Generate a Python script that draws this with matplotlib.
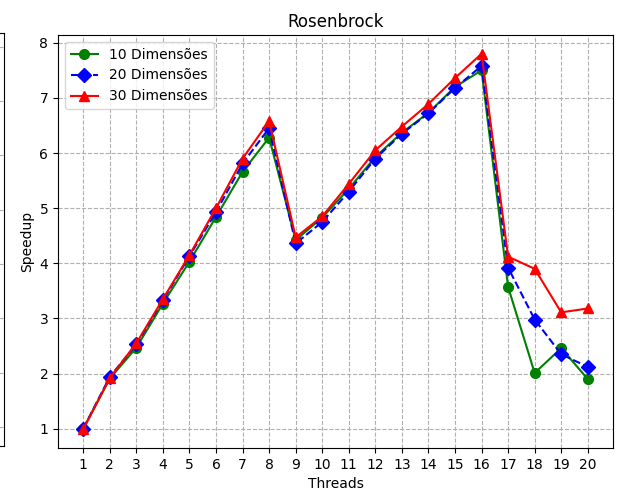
import matplotlib

matplotlib.use("Agg")

import matplotlib.pyplot as plt

threads = list(range(1, 21))

dim10 = [1.0, 1.91, 2.47, 3.27, 4.03, 4.84, 5.66, 6.28, 4.42, 4.83, 5.35, 5.93,
         6.37, 6.73, 7.20, 7.50, 3.57, 2.01, 2.46, 1.90]
dim20 = [1.0, 1.94, 2.53, 3.33, 4.13, 4.93, 5.81, 6.45, 4.36, 4.75, 5.30, 5.90,
         6.35, 6.72, 7.18, 7.58, 3.92, 2.98, 2.35, 2.12]
dim30 = [0.99, 1.92, 2.55, 3.35, 4.15, 5.00, 5.90, 6.58, 4.47, 4.85, 5.44, 6.05,
         6.48, 6.89, 7.36, 7.80, 4.12, 3.90, 3.11, 3.18]

labels = ["10 Dimensões", "20 Dimensões", "30 Dimensões"]

fig = plt.figure(figsize=(6.18, 4.96), dpi=100)

# edge of the neighbouring subplot, cut off at the left border
prev = fig.add_axes([-0.5, 0.101, 0.5066, 0.832])
prev.set_ylim(0.65, 8.25)
prev.set_yticks(range(1, 9))
prev.set_xticks([])
prev.tick_params(labelleft=False, left=False)
prev.grid(True, linestyle="--")

ax = fig.add_axes([0.0939, 0.0968, 0.898, 0.8326])
ax.plot(threads, dim10, "o-", color="green", markersize=7, label=labels[0])
ax.plot(threads, dim20, "D--", color="blue", markersize=7, label=labels[1])
ax.plot(threads, dim30, "^-", color="red", markersize=7, label=labels[2])

ax.set_xticks(threads)
ax.set_title("Rosenbrock")
ax.set_xlabel("Threads")
ax.set_ylabel("Speedup")
ax.grid(True, linestyle="--")
ax.legend(loc="upper left")

fig.savefig("out.png", dpi=100)
